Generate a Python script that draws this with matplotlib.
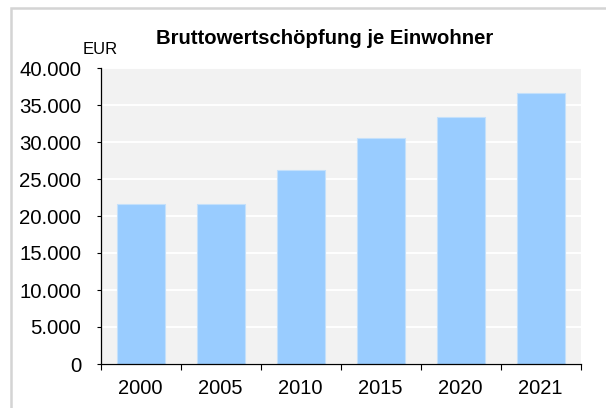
import matplotlib
matplotlib.use("Agg")
import matplotlib.pyplot as plt
from matplotlib.patches import Rectangle
from matplotlib.ticker import FuncFormatter, FixedLocator
import numpy as np

years = ["2000", "2005", "2010", "2015", "2020", "2021"]
values = [21660, 21570, 26160, 30490, 33420, 36620]
y_ticks = [0, 5000, 10000, 15000, 20000, 25000, 30000, 35000, 40000]

plt.rcParams['font.family'] = ['Liberation Sans', 'DejaVu Sans']

fig = plt.figure(figsize=(6.06, 4.08), dpi=100)
ax = fig.add_axes([100.5 / 606, 44 / 408, 480 / 606, 296 / 408])

# Rahmen um die Grafik
fig.patches.append(Rectangle((11 / 606, -0.1), 1.2, (400 / 408) + 0.1,
                             transform=fig.transFigure, fill=False,
                             edgecolor='#d4d4d4', linewidth=1.8, zorder=0))

x = np.arange(len(years))
ax.set_facecolor('#f2f2f2')
ax.bar(x, values, width=0.6, color='#99ccff', edgecolor='#c4e0fb',
       linewidth=0.8, zorder=3)

ax.set_xlim(-0.5, len(years) - 0.5)
ax.set_ylim(0, 40000)
ax.set_yticks(y_ticks)
ax.yaxis.set_major_formatter(FuncFormatter(lambda v, p: f"{int(v):,}".replace(",", ".")))
ax.grid(axis='y', color='white', linewidth=1.4, zorder=1)

ax.set_xticks(x)
ax.set_xticklabels(years)
ax.xaxis.set_minor_locator(FixedLocator(np.arange(-0.5, len(years), 1.0)))
ax.tick_params(axis='x', which='major', length=0, pad=11, labelsize=14.5)
ax.tick_params(axis='x', which='minor', length=4.5, width=0.8, direction='out')
ax.tick_params(axis='y', length=3, width=0.8, pad=11, labelsize=14.7)

for s in ['top', 'right']:
    ax.spines[s].set_visible(False)
for s in ['left', 'bottom']:
    ax.spines[s].set_linewidth(0.9)
    ax.spines[s].set_zorder(4)

fig.text(325 / 606, (408 - 38) / 408, 'Bruttowertschöpfung je Einwohner',
         ha='center', va='center', fontsize=14.6, fontweight='bold')
fig.text(83 / 606, (408 - 49) / 408, 'EUR', ha='left', va='center', fontsize=12)

fig.savefig('out.png', dpi=100)
